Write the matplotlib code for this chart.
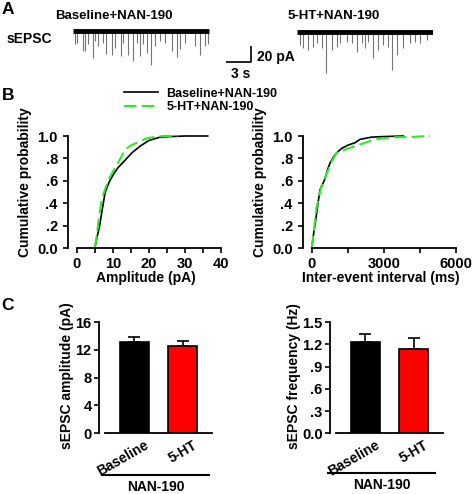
import numpy as np
import matplotlib
matplotlib.use('Agg')
import matplotlib.pyplot as plt
import matplotlib.transforms as mtransforms

plt.rcParams['font.family'] = 'Liberation Sans'
plt.rcParams['font.weight'] = 'bold'
plt.rcParams['axes.labelweight'] = 'bold'
plt.rcParams['axes.linewidth'] = 1.3


### DATA ###

# A - sEPSC traces (event time in s, event amplitude in pA)
trace_len = 16.6
base_t = [0.24, 0.53, 1.18, 1.46, 1.87, 2.40, 2.68, 3.09, 3.70, 4.02, 4.72, 5.12,
          5.81, 6.14, 6.75, 7.36, 7.76, 8.17, 8.50, 8.98, 9.51, 10.00, 10.61,
          11.22, 12.03, 12.64, 13.05, 13.66, 14.88, 15.49, 16.10, 16.50]
base_amp = [16, 14, 24, 24, 16, 32, 12, 18, 14, 28, 29, 20,
            30, 14, 29, 36, 14, 30, 16, 26, 41, 18, 12,
            14, 24, 31, 22, 14, 18, 29, 18, 16]
ht_t = [0.37, 0.77, 1.38, 1.99, 2.40, 3.01, 3.50, 4.23, 4.84, 5.24, 6.06, 6.67,
        7.28, 7.89, 8.29, 8.70, 9.31, 9.92, 10.53, 11.14, 11.55, 12.15, 12.97,
        13.78, 14.39, 15.00, 15.81]
ht_amp = [17, 21, 23, 19, 15, 21, 50, 23, 19, 15, 13, 15,
          25, 15, 21, 13, 32, 23, 17, 19, 47, 29, 21,
          15, 13, 15, 11]
scale_t = 3      # s
scale_pa = 20    # pA

# B - cumulative distributions
amp_base_x = [5.0, 5.5, 6.3, 7.0, 7.9, 9.0, 10.2, 11.5, 13.0, 15.3, 17.6, 20.0, 23.1, 26.0, 30.0, 36.3]
amp_base_y = [0.0, 0.08, 0.19, 0.33, 0.50, 0.59, 0.66, 0.72, 0.77, 0.85, 0.91, 0.96, 0.99, 0.995, 1.0, 1.0]
amp_ht_x = [5.0, 5.5, 6.2, 6.9, 8.0, 9.3, 10.5, 11.6, 12.8, 13.9, 15.2, 16.7, 18.0, 19.4, 21.3, 24.0, 28.0]
amp_ht_y = [0.0, 0.10, 0.28, 0.43, 0.54, 0.64, 0.71, 0.77, 0.84, 0.89, 0.92, 0.94, 0.96, 0.98, 0.99, 1.0, 1.0]

iei_base_x = [0, 80, 167, 260, 347, 450, 556, 660, 764, 900, 1042, 1250, 1528, 1806,
              2014, 2250, 2500, 3000, 3819]
iei_base_y = [0.0, 0.13, 0.25, 0.40, 0.52, 0.57, 0.62, 0.70, 0.76, 0.81, 0.85, 0.89, 0.92, 0.94,
              0.97, 0.98, 0.99, 0.995, 1.0]
iei_ht_x = [0, 208, 417, 556, 694, 850, 1042, 1528, 2083, 2639, 3472, 4000, 4931]
iei_ht_y = [0.0, 0.37, 0.56, 0.63, 0.70, 0.78, 0.85, 0.89, 0.93, 0.97, 0.99, 0.99, 1.0]

prob_ticks = [0.0, 0.2, 0.4, 0.6, 0.8, 1.0]
prob_labels = ['0.0', '.2', '.4', '.6', '.8', '1.0']

# C - bar graphs
groups = ['Baseline', '5-HT']
amp_mean = [13.15, 12.6]
amp_sem = [0.7, 0.7]
freq_mean = [1.235, 1.13]
freq_sem = [0.11, 0.15]
amp_ticks = [0, 4, 8, 12, 16]
freq_ticks = [0.0, 0.3, 0.6, 0.9, 1.2, 1.5]
freq_labels = ['0.0', '.3', '.6', '.9', '1.2', '1.5']


### FIGURE ###
W, H = 472, 494
fig = plt.figure(figsize=(W / 100, H / 100), dpi=100)


def rect(x0, y0, x1, y1):
    # pixel box (from top-left) -> figure fraction
    return [x0 / W, 1 - y1 / H, (x1 - x0) / W, (y1 - y0) / H]


def fy(y):
    return 1 - y / H


green = '#2ee82e'
fs_lab = 10
fs_tick = 10.5

### A ###
ax_a = fig.add_axes(rect(73, 20, 433, 80))
ax_a.set_xlim(0, 43.9)
ax_a.set_ylim(-58.8, 13.2)
ax_a.axis('off')
t2 = 27.3
ax_a.vlines(base_t, -np.array(base_amp), 0, color='0.45', lw=0.8)
ax_a.vlines(np.array(ht_t) + t2, -np.array(ht_amp), 0, color='0.45', lw=0.8)
ax_a.plot([0, trace_len], [0, 0], color='black', lw=3.5, solid_capstyle='butt')
ax_a.plot([t2, t2 + trace_len], [-1.5, -1.5], color='black', lw=3.5, solid_capstyle='butt')
bx, by = 18.66, -37.6
ax_a.plot([bx, bx + scale_t, bx + scale_t], [by, by, by + scale_pa],
          color='black', lw=1.2, solid_capstyle='butt')
ax_a.text(bx + scale_t / 2 + 0.3, by - 5, '%d s' % scale_t,
          ha='center', va='top', fontsize=fs_lab)
ax_a.text(bx + scale_t + 0.8, by + 1.5, '%d pA' % scale_pa,
          ha='left', va='baseline', fontsize=fs_lab)

fig.text(1.7 / W, fy(13.5), 'A', fontsize=12.5, ha='left', va='baseline')
fig.text(114 / W, fy(19), 'Baseline+NAN-190', fontsize=9.5, ha='center', va='baseline')
fig.text(333.7 / W, fy(19), '5-HT+NAN-190', fontsize=9.5, ha='center', va='baseline')
fig.text(7 / W, fy(43), 'sEPSC', fontsize=fs_lab, ha='left', va='baseline')

### B ###
ax_b1 = fig.add_axes(rect(76.7, 136, 221, 248.3))
ax_b2 = fig.add_axes(rect(311.7, 136, 455.7, 248.3))

l1, = ax_b1.plot(amp_base_x, amp_base_y, color='black', lw=1.2, clip_on=False,
                 label='Baseline+NAN-190')
l2, = ax_b1.plot(amp_ht_x, amp_ht_y, color=green, lw=1.5, dashes=(6, 2.5), clip_on=False,
                 label='5-HT+NAN-190')
ax_b2.plot(iei_base_x, iei_base_y, color='black', lw=1.2, clip_on=False)
ax_b2.plot(iei_ht_x, iei_ht_y, color=green, lw=1.5, dashes=(6, 2.5), clip_on=False)

ax_b1.set_xlim(0, 40)
ax_b1.set_xticks([0, 10, 20, 30, 40])
ax_b1.xaxis.set_minor_locator(plt.MultipleLocator(5))
ax_b1.set_xlabel('Amplitude (pA)', fontsize=fs_lab)
ax_b2.set_xlim(0, 6000)
ax_b2.set_xticks([0, 3000, 6000])
ax_b2.xaxis.set_minor_locator(plt.MultipleLocator(1500))
ax_b2.set_xlabel('Inter-event interval (ms)', fontsize=fs_lab)

for ax in (ax_b1, ax_b2):
    for s in ('top', 'right'):
        ax.spines[s].set_visible(False)
    ax.spines['left'].set_position(('outward', 6))
    ax.set_ylim(0, 1.0)
    ax.set_yticks(prob_ticks)
    ax.set_yticklabels(prob_labels)
    ax.set_ylabel('Cumulative probability', fontsize=fs_lab)
    ax.yaxis.set_label_coords(-0.31, 0.59)
    ax.xaxis.set_label_coords(0.48, -0.20)
    ax.tick_params(which='both', direction='out', length=3.6, width=1.2, labelsize=fs_tick)
    ax.tick_params(axis='y', pad=4)
    ax.tick_params(axis='x', pad=3)

fig.legend(handles=[l1, l2], loc='center left', bbox_to_anchor=(124 / W, fy(100.5)),
           frameon=False, fontsize=9, handlelength=2.7, handletextpad=0.7,
           labelspacing=0.15, borderpad=0, borderaxespad=0)
fig.text(1.7 / W, fy(100), 'B', fontsize=12.5, ha='left', va='baseline')

### C ###
ax_c1 = fig.add_axes(rect(105, 322, 212, 433.3))
ax_c2 = fig.add_axes(rect(336, 322, 442.7, 433.3))
x = np.arange(len(groups))

for ax, mean, sem in ((ax_c1, amp_mean, amp_sem), (ax_c2, freq_mean, freq_sem)):
    ax.bar(x, mean, width=0.6, color=['black', 'red'], edgecolor='black', linewidth=1.2, zorder=2)
    ax.errorbar(x, mean, yerr=[[0] * len(sem), sem], fmt='none', ecolor='black',
                elinewidth=1.2, capsize=4, capthick=1.2, zorder=1)
    ax.set_xlim(-0.6, 1.6)
    for s in ('top', 'right'):
        ax.spines[s].set_visible(False)
    ax.spines['left'].set_position(('outward', 4))
    ax.set_xticks(x)
    ax.set_xticklabels(groups, rotation=30, ha='right', va='center',
                       rotation_mode='anchor', fontsize=fs_lab)
    ax.tick_params(axis='x', length=0, pad=8)
    ax.tick_params(axis='y', direction='out', length=3.6, width=1.2, labelsize=fs_tick, pad=2)
    off = mtransforms.ScaledTranslation(0.13, 0, fig.dpi_scale_trans)
    for lab in ax.get_xticklabels():
        lab.set_transform(lab.get_transform() + off)

ax_c1.set_ylim(0, 16)
ax_c1.set_yticks(amp_ticks)
ax_c1.set_ylabel('sEPSC amplitude (pA)', fontsize=fs_lab)
ax_c1.yaxis.set_label_coords(-0.29, 0.52)
ax_c2.set_ylim(0, 1.5)
ax_c2.set_yticks(freq_ticks)
ax_c2.set_yticklabels(freq_labels)
ax_c2.set_ylabel('sEPSC frequency (Hz)', fontsize=fs_lab)
ax_c2.yaxis.set_label_coords(-0.33, 0.51)

for ax, (xa, xb), yl in ((ax_c1, (-0.66, 1.546), -0.375), (ax_c2, (-0.76, 1.45), -0.355)):
    tr = ax.get_xaxis_transform()
    ax.plot([xa, xb], [yl, yl], color='black', lw=1.5, transform=tr, clip_on=False)
    ax.text((xa + xb) / 2, yl - 0.045, 'NAN-190', transform=tr, ha='center', va='top',
            fontsize=fs_lab)

fig.text(1.7 / W, fy(310), 'C', fontsize=12.5, ha='left', va='baseline')

fig.savefig('out.png', dpi=100)
